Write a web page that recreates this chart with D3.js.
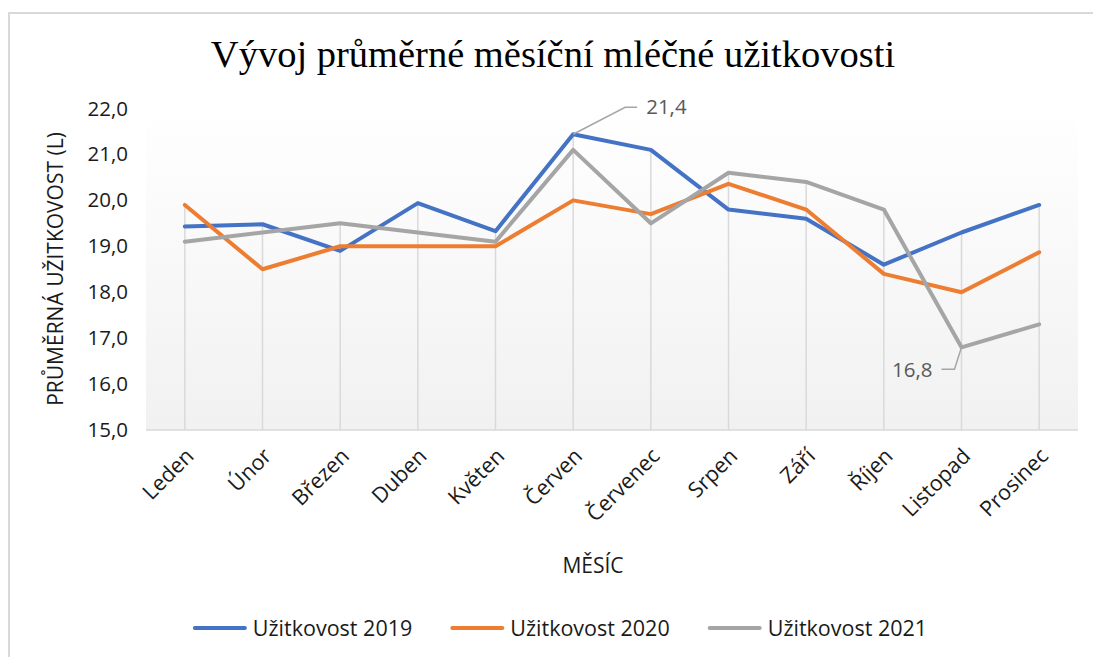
<!DOCTYPE html>
<html>
<head>
<meta charset="utf-8">
<script src="https://cdn.jsdelivr.net/npm/d3@7.9.0/dist/d3.min.js"></script>
<style>
  body { margin: 0; background: #fff; }
  svg { display: block; }
  text { font-family: "Open Sans", sans-serif; }
</style>
</head>
<body>
<svg id="chart" width="1093" height="657"></svg>
<script>
// data
const months = ["Leden", "Únor", "Březen", "Duben", "Květen", "Červen",
  "Červenec", "Srpen", "Září", "Říjen", "Listopad", "Prosinec"];
const uzitkovost2019 = [19.43, 19.48, 18.9, 19.94, 19.33, 21.44, 21.1, 19.8, 19.6, 18.6, 19.3, 19.9];
const uzitkovost2020 = [19.9, 18.5, 19.0, 19.0, 19.0, 20.0, 19.7, 20.36, 19.8, 18.4, 18.0, 18.87];
const uzitkovost2021 = [19.1, 19.3, 19.5, 19.3, 19.1, 21.1, 19.5, 20.6, 20.4, 19.8, 16.8, 17.3];
const seriesNames = ["Užitkovost 2019", "Užitkovost 2020", "Užitkovost 2021"];
const yTicks = [15, 16, 17, 18, 19, 20, 21, 22];

const colors = ["#4472C4", "#ED7D31", "#A5A5A5"];
const series = [uzitkovost2019, uzitkovost2020, uzitkovost2021].map((vals, i) => ({
  name: seriesNames[i],
  color: colors[i],
  values: vals.map((v, j) => ({ month: months[j], value: v }))
}));

const cz = d3.formatLocale({ decimal: ",", thousands: " ", grouping: [3], currency: ["", " Kč"] });
const fmt = cz.format(".1f");

const svg = d3.select("#chart");
const plot = { left: 146, right: 1078, top: 108.5, bottom: 430 };

const x = d3.scaleBand().domain(months).range([plot.left, plot.right]);
const cx = m => x(m) + x.bandwidth() / 2;
const y = d3.scaleLinear().domain([15, 22]).range([plot.bottom, plot.top]);

// outer chart border (only left/top visible in the crop)
svg.append("path")
  .attr("d", "M9,700 V13 H1100")
  .attr("fill", "none")
  .attr("stroke", "#d9d9d9")
  .attr("stroke-width", 2);

// title
svg.append("text")
  .attr("x", 553)
  .attr("y", 67)
  .attr("text-anchor", "middle")
  .style("font-family", "'Liberation Serif', 'Times New Roman', serif")
  .style("font-size", "38.5px")
  .attr("fill", "#000")
  .text("Vývoj průměrné měsíční mléčné užitkovosti");

// plot background gradient
const defs = svg.append("defs");
const grad = defs.append("linearGradient")
  .attr("id", "bg").attr("x1", 0).attr("y1", 0).attr("x2", 0).attr("y2", 1);
grad.append("stop").attr("offset", "0%").attr("stop-color", "#ffffff");
grad.append("stop").attr("offset", "100%").attr("stop-color", "#f1f1f1");

svg.append("rect")
  .attr("x", plot.left)
  .attr("y", plot.top - 2)
  .attr("width", plot.right - plot.left)
  .attr("height", plot.bottom - plot.top + 2)
  .attr("fill", "url(#bg)");

// drop lines from highest point of each month
svg.append("g")
  .selectAll("line")
  .data(months)
  .join("line")
  .attr("x1", d => cx(d))
  .attr("x2", d => cx(d))
  .attr("y1", (d, j) => y(d3.max(series, s => s.values[j].value)))
  .attr("y2", plot.bottom)
  .attr("stroke", "#d9d9d9")
  .attr("stroke-width", 1.5);

// x axis line
svg.append("line")
  .attr("x1", plot.left).attr("x2", plot.right)
  .attr("y1", plot.bottom).attr("y2", plot.bottom)
  .attr("stroke", "#d9d9d9")
  .attr("stroke-width", 1.5);

// y axis labels
const yAxis = svg.append("g")
  .attr("transform", `translate(${plot.left - 18},0)`)
  .call(d3.axisLeft(y).tickValues(yTicks).tickFormat(fmt).tickSize(0).tickPadding(0));
yAxis.select(".domain").remove();
yAxis.selectAll("text")
  .style("font-family", "'Open Sans', sans-serif")
  .style("font-size", "20.5px")
  .attr("fill", "#1a1a1a");

// x axis labels, rotated
svg.append("g")
  .selectAll("text")
  .data(months)
  .join("text")
  .attr("transform", d => `translate(${cx(d) + 5},${plot.bottom + 22}) rotate(-45)`)
  .attr("text-anchor", "end")
  .attr("dy", "0.35em")
  .style("font-size", "21.5px")
  .attr("fill", "#1a1a1a")
  .text(d => d);

// axis titles
svg.append("text")
  .attr("transform", "translate(63,269) rotate(-90)")
  .attr("text-anchor", "middle")
  .style("font-size", "21px")
  .attr("fill", "#1a1a1a")
  .text("PRŮMĚRNÁ UŽITKOVOST (L)");

svg.append("text")
  .attr("x", 593)
  .attr("y", 573)
  .attr("text-anchor", "middle")
  .style("font-size", "21px")
  .attr("fill", "#1a1a1a")
  .text("MĚSÍC");

// lines
const line = d3.line()
  .x(d => cx(d.month))
  .y(d => y(d.value));

svg.append("g")
  .selectAll("path")
  .data(series)
  .join("path")
  .attr("d", d => line(d.values))
  .attr("fill", "none")
  .attr("stroke", d => d.color)
  .attr("stroke-width", 4)
  .attr("stroke-linejoin", "round")
  .attr("stroke-linecap", "round");

// data labels: maximum of 2019 and minimum of 2021
const maxPt = series[0].values[d3.maxIndex(series[0].values, d => d.value)];
const minPt = series[2].values[d3.minIndex(series[2].values, d => d.value)];

const px = cx(maxPt.month), py = y(maxPt.value);
svg.append("path")
  .attr("d", `M${px},${py} L${px + 52},${py - 27} H${px + 64}`)
  .attr("fill", "none")
  .attr("stroke", "#a6a6a6")
  .attr("stroke-width", 1.5);
svg.append("text")
  .attr("x", px + 73)
  .attr("y", py - 27)
  .attr("dy", "0.35em")
  .style("font-size", "20.5px")
  .attr("fill", "#595959")
  .text(fmt(Math.floor(maxPt.value * 10) / 10));

const qx = cx(minPt.month), qy = y(minPt.value);
svg.append("path")
  .attr("d", `M${qx},${qy} L${qx - 7},${qy + 22} H${qx - 20}`)
  .attr("fill", "none")
  .attr("stroke", "#a6a6a6")
  .attr("stroke-width", 1.5);
svg.append("text")
  .attr("x", qx - 29)
  .attr("y", qy + 22)
  .attr("dy", "0.35em")
  .attr("text-anchor", "end")
  .style("font-size", "20.5px")
  .attr("fill", "#595959")
  .text(fmt(minPt.value));

// legend
const legend = svg.append("g");
const items = legend.selectAll("g")
  .data(series)
  .join("g");
items.append("line")
  .attr("x1", 0).attr("x2", 50)
  .attr("y1", 0).attr("y2", 0)
  .attr("stroke", d => d.color)
  .attr("stroke-width", 4)
  .attr("stroke-linecap", "round");
items.append("text")
  .attr("x", 58)
  .attr("dy", "0.35em")
  .style("font-size", "21.5px")
  .attr("fill", "#1a1a1a")
  .text(d => d.name);

let offset = 0;
const widths = [];
items.each(function () {
  const w = 58 + d3.select(this).select("text").node().getComputedTextLength();
  widths.push(w);
});
items.attr("transform", (d, i) => {
  const t = `translate(${offset},0)`;
  offset += widths[i] + 40;
  return t;
});
const total = offset - 40;
legend.attr("transform", `translate(${561 - total / 2},628)`);
</script>
</body>
</html>
